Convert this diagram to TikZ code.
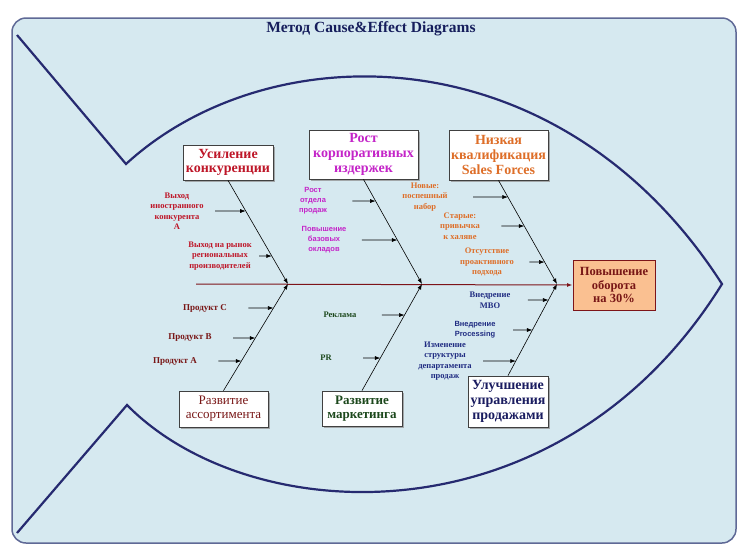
\documentclass[tikz,border=0pt]{standalone}
\usepackage{fontspec}
\setmainfont{Liberation Serif}
\setsansfont{Liberation Sans}
\usetikzlibrary{arrows.meta,calc,positioning,shadows}
\definecolor{PanelBlue}{RGB}{214,233,240}
\definecolor{PanelEdge}{RGB}{95,105,150}
\definecolor{FishNavy}{RGB}{38,42,112}
\definecolor{TitleNavy}{RGB}{22,30,92}
\definecolor{SpineRed}{RGB}{125,20,25}
\definecolor{CompRed}{RGB}{190,22,40}
\definecolor{CostPink}{RGB}{196,36,200}
\definecolor{SkillOrange}{RGB}{222,110,40}
\definecolor{RangeRed}{RGB}{120,22,22}
\definecolor{MarkGreen}{RGB}{28,72,28}
\definecolor{MgmtNavy}{RGB}{26,28,96}
\definecolor{CauseNavy}{RGB}{32,44,130}
\definecolor{GoalPeach}{RGB}{250,192,145}
\newcommand{\onbone}[3]{(intersection cs: first line={(#1)--(#2)}, second line={(#3)--([xshift=10pt]#3)})}

\begin{document}
\begin{tikzpicture}[x=1pt,y=-1pt,>={Latex[length=5.5pt,width=4pt]},
  catbox/.style={draw=black!75,fill=white,align=center,inner sep=2pt,line width=0.8pt,
    drop shadow={shadow xshift=1.5pt,shadow yshift=-1.5pt,fill=black!45,opacity=.7}},
  topcat/.style={catbox,font=\fontsize{14}{14.8}\selectfont\bfseries},
  lowcat/.style={catbox,font=\fontsize{13}{14}\selectfont},
  cause/.style={align=center,font=\fontsize{8.5}{10.5}\selectfont\bfseries},
  sanscause/.style={align=center,font=\fontsize{7.5}{10}\selectfont\sffamily\bfseries},
  causearr/.style={->,black,line width=0.6pt},
  bone/.style={->,black,line width=0.6pt},
  fish/.style={FishNavy,line width=2.2pt,line join=miter}]
  \useasboundingbox (0,0) rectangle (752,558);
  \fill[white] (0,0) rectangle (752,558);
  \draw[PanelEdge,fill=PanelBlue,line width=1.5pt,rounded corners=14pt] (12,18) rectangle (736,543);
  \node[TitleNavy,font=\fontsize{15.5}{17}\selectfont\bfseries] (title) at (371,29) {Метод Cause\&Effect Diagrams};
  \draw[fish] (17,35) -- (126,164) .. controls (270,32) and (560,32) .. (722,284)
    .. controls (560,545) and (250,530) .. (127,405) -- (17,533);

  \node[draw=SpineRed,fill=GoalPeach,line width=1pt,text=RangeRed,align=center,
    font=\fontsize{12.5}{13.5}\selectfont\bfseries,minimum width=82pt,minimum height=50pt] (goal) at (614,285) {Повышение\\оборота\\на 30\%};
  \coordinate (tailend) at (196,284);
  \coordinate (j1) at (288,284);
  \coordinate (j2) at (422,284);
  \coordinate (j3) at (557,284);
  \draw[SpineRed,line width=1pt,->] (tailend) -- (goal.west);

  \node[topcat,text=CompRed,minimum width=90pt,minimum height=35pt] (c1) at (228,162.5) {Усиление\\конкуренции};
  \node[topcat,text=CostPink,minimum width=109pt,minimum height=49pt] (c2) at (363.5,154.5) {Рост\\корпоративных\\издержек};
  \node[topcat,text=SkillOrange,minimum width=99pt,minimum height=50pt] (c3) at (498.5,155) {Низкая\\квалификация\\Sales Forces};
  \node[lowcat,text=RangeRed,minimum width=89pt,minimum height=36pt] (c4) at (223.5,409) {Развитие\\ассортимента};
  \node[lowcat,text=MarkGreen,font=\fontsize{13}{14}\selectfont\bfseries,minimum width=80pt,minimum height=35pt] (c5) at (362,408.5) {Развитие\\маркетинга};
  \node[topcat,text=MgmtNavy,minimum width=80pt,minimum height=51pt] (c6) at (508,401.5) {Улучшение\\управления\\продажами};

  \draw[bone] (c1.south) -- (j1);
  \draw[bone] (c4.north) -- (j1);
  \draw[bone] (c2.south) -- (j2);
  \draw[bone] (c5.north) -- (j2);
  \draw[bone] (c3.south) -- (j3);
  \draw[bone] (c6.north) -- (j3);

  \node[cause,text=CompRed] (l11) at (177,211) {Выход\\иностранного\\конкурента\\А};
  \node[cause,text=CompRed] (l12) at (220,256) {Выход на рынок\\региональных\\производителей};
  \node[sanscause,text=CostPink] (l21) at (313,201) {Рост\\отдела\\продаж};
  \node[sanscause,text=CostPink] (l22) at (324,240) {Повышение\\базовых\\окладов};
  \node[cause,text=SkillOrange] (l31) at (425,197) {Новые:\\поспешный\\набор};
  \node[cause,text=SkillOrange] (l32) at (460,226) {Старые:\\привычка\\к халяве};
  \node[cause,text=SkillOrange] (l33) at (487,262) {Отсутствие\\проактивного\\подхода};
  \node[cause,text=RangeRed,font=\fontsize{9}{11}\selectfont\bfseries] (l41) at (205,308) {Продукт С};
  \node[cause,text=RangeRed,font=\fontsize{9}{11}\selectfont\bfseries] (l42) at (190,338) {Продукт В};
  \node[cause,text=RangeRed,font=\fontsize{9}{11}\selectfont\bfseries] (l43) at (175,361) {Продукт А};
  \node[cause,text=MarkGreen] (l51) at (340,315) {Реклама};
  \node[cause,text=MarkGreen] (l52) at (326,358) {PR};
  \node[cause,text=CauseNavy] (l61) at (490,300) {Внедрение\\МВО};
  \node[sanscause,text=CauseNavy] (l62) at (475,330) {Внедрение\\Processing};
  \node[cause,text=CauseNavy] (l63) at (445,361) {Изменение\\структуры\\департамента\\продаж};

  \draw[causearr,shorten <=8pt] (l11.east) -- \onbone{c1.south}{j1}{l11.east};
  \draw[causearr,shorten <=4pt] (l12.east) -- \onbone{c1.south}{j1}{l12.east};
  \draw[causearr,shorten <=22pt] (l21.east) -- \onbone{c2.south}{j2}{l21.east};
  \draw[causearr,shorten <=12pt] (l22.east) -- \onbone{c2.south}{j2}{l22.east};
  \draw[causearr,shorten <=22pt] (l31.east) -- \onbone{c3.south}{j3}{l31.east};
  \draw[causearr,shorten <=18pt] (l32.east) -- \onbone{c3.south}{j3}{l32.east};
  \draw[causearr,shorten <=12pt] (l33.east) -- \onbone{c3.south}{j3}{l33.east};
  \draw[causearr,shorten <=18pt] (l41.east) -- \onbone{c4.north}{j1}{l41.east};
  \draw[causearr,shorten <=18pt] (l42.east) -- \onbone{c4.north}{j1}{l42.east};
  \draw[causearr,shorten <=18pt] (l43.east) -- \onbone{c4.north}{j1}{l43.east};
  \draw[causearr,shorten <=22pt] (l51.east) -- \onbone{c5.north}{j2}{l51.east};
  \draw[causearr,shorten <=28pt] (l52.east) -- \onbone{c5.north}{j2}{l52.east};
  \draw[causearr,shorten <=14pt] (l61.east) -- \onbone{c6.north}{j3}{l61.east};
  \draw[causearr,shorten <=14pt] (l62.east) -- \onbone{c6.north}{j3}{l62.east};
  \draw[causearr,shorten <=8pt] (l63.east) -- \onbone{c6.north}{j3}{l63.east};
\end{tikzpicture}
\end{document}
